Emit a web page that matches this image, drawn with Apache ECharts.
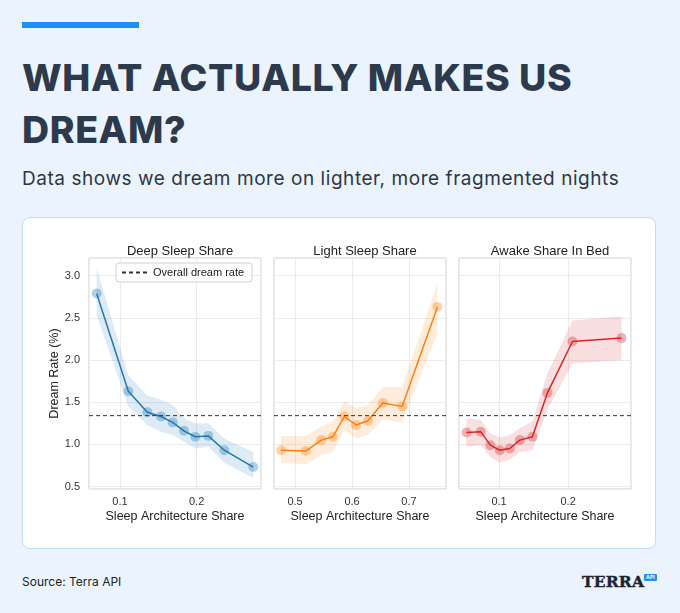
<!DOCTYPE html>
<html>
<head>
<meta charset="utf-8">
<script src="https://cdn.jsdelivr.net/npm/echarts@6/dist/echarts.min.js"></script>
<style>
  html, body { margin: 0; padding: 0; }
  body { width: 680px; height: 613px; background: #ebf4fe; position: relative; overflow: hidden; font-family: Inter, "Noto Sans", sans-serif; }
  .bar { position: absolute; left: 22px; top: 22px; width: 117px; height: 6px; background: #1e8ff5; }
  .title { position: absolute; left: 22px; top: 52px; font-size: 37.5px; font-weight: 800; line-height: 52px; color: #2d3a4c; letter-spacing: 0.6px; }
  .subtitle { position: absolute; left: 22px; top: 166px; font-size: 19px; line-height: 26px; color: #2f3744; letter-spacing: 0.55px; }
  .card { position: absolute; left: 22px; top: 217px; width: 632px; height: 330px; background: #fff; border: 1.5px solid #bfdcf7; border-radius: 8px; }
  .source { position: absolute; left: 22px; top: 574px; font-size: 12px; color: #222; }
  .logo { position: absolute; left: 582px; top: 572px; font-family: "DejaVu Serif", serif; font-weight: bold; font-size: 15.5px; color: #1d2430; letter-spacing: 0.2px; -webkit-text-stroke: 0.4px #1d2430; }
  .logo span { position: absolute; left: 62px; top: 2px; background: #2a8df0; color: #fff; font-family: Inter, sans-serif; font-size: 5px; padding: 0 2px; line-height: 7px; border-radius: 1px; -webkit-text-stroke: 0; }
  #chart { position: absolute; left: 0; top: 0; width: 680px; height: 613px; }
</style>
</head>
<body>
<div class="bar"></div>
<div class="title">WHAT ACTUALLY MAKES US<br>DREAM?</div>
<div class="subtitle">Data shows we dream more on lighter, more fragmented nights</div>
<div class="card"></div>
<div class="source">Source: Terra API</div>
<div class="logo">TERRA<span>API</span></div>
<div id="chart"></div>
<script>
// 数据：每个面板的分箱均值与置信区间
const overallRate = 1.34;

const deepX    = [0.0696, 0.1109, 0.1357, 0.1535, 0.1687, 0.1835, 0.1983, 0.2152, 0.2361, 0.2739];
const deepRate = [2.79, 1.63, 1.38, 1.33, 1.26, 1.16, 1.09, 1.10, 0.93, 0.73];
const deepLo   = [2.53, 1.45, 1.23, 1.15, 1.11, 1.03, 0.95, 0.97, 0.78, 0.60];
const deepHi   = [3.09, 1.82, 1.58, 1.53, 1.47, 1.31, 1.25, 1.25, 1.07, 0.91];

const lightX    = [0.4753, 0.5188, 0.5459, 0.5665, 0.5865, 0.607, 0.628, 0.654, 0.688, 0.75];
const lightRate = [0.93, 0.92, 1.05, 1.09, 1.33, 1.23, 1.28, 1.49, 1.45, 2.63];
const lightLo   = [0.78, 0.76, 0.87, 0.91, 1.17, 1.07, 1.11, 1.29, 1.26, 2.32];
const lightHi   = [1.10, 1.10, 1.21, 1.27, 1.51, 1.43, 1.47, 1.68, 1.68, 2.91];

const awakeX    = [0.0527, 0.0734, 0.0874, 0.101, 0.1155, 0.130, 0.1483, 0.170, 0.2063, 0.2773];
const awakeRate = [1.14, 1.15, 0.99, 0.93, 0.95, 1.05, 1.09, 1.61, 2.22, 2.26];
const awakeLo   = [0.97, 0.99, 0.85, 0.78, 0.82, 0.91, 0.93, 1.41, 1.96, 2.00];
const awakeHi   = [1.31, 1.29, 1.13, 1.08, 1.11, 1.19, 1.27, 1.84, 2.47, 2.52];

const panelTitles = ['Deep Sleep Share', 'Light Sleep Share', 'Awake Share In Bed'];

// 面板配置
const panels = [
  { x: deepX,  y: deepRate,  lo: deepLo,  hi: deepHi,  color: '#1f77b4', left: 89,  xMin: 0.0596, xMax: 0.284 },
  { x: lightX, y: lightRate, lo: lightLo, hi: lightHi, color: '#ff7f0e', left: 274, xMin: 0.463,  xMax: 0.765 },
  { x: awakeX, y: awakeRate, lo: awakeLo, hi: awakeHi, color: '#d62728', left: 459, xMin: 0.042,  xMax: 0.291 }
];

const font = '"Liberation Sans", Arial, sans-serif';
const textColor = '#333';
const gridTop = 258, gridH = 231, gridW = 172;

const grids = [], xAxes = [], yAxes = [], titles = [], series = [];

panels.forEach((p, idx) => {
  grids.push({ left: p.left, top: gridTop, width: gridW, height: gridH, show: true, borderColor: '#cccccc', borderWidth: 1, containLabel: false });

  titles.push({
    text: panelTitles[idx], left: p.left + gridW / 2, top: 240, textAlign: 'center',
    textStyle: { fontFamily: font, fontSize: 13, fontWeight: 'normal', color: '#222' }
  });

  xAxes.push({
    type: 'value', gridIndex: idx, min: p.xMin, max: p.xMax, splitNumber: idx === 1 ? 3 : 2,
    name: 'Sleep Architecture Share', nameLocation: 'middle', nameGap: 21,
    nameTextStyle: { fontFamily: font, fontSize: 12.5, color: '#222' },
    axisLine: { show: false }, axisTick: { show: false },
    axisLabel: { fontFamily: font, fontSize: 11, color: textColor, margin: 7, showMinLabel: false, showMaxLabel: false,
      formatter: v => v.toFixed(1) },
    splitLine: { lineStyle: { color: '#ebebeb', width: 1 } }
  });

  yAxes.push({
    type: 'value', gridIndex: idx, min: 0.47, max: 3.21, splitNumber: 5,
    name: idx === 0 ? 'Dream Rate (%)' : '', nameLocation: 'middle', nameGap: 27,
    nameTextStyle: { fontFamily: font, fontSize: 12.5, color: '#222' },
    axisLine: { show: false }, axisTick: { show: false },
    axisLabel: { show: idx === 0, fontFamily: font, fontSize: 11, color: textColor, margin: 9,
      showMinLabel: false, showMaxLabel: false, formatter: v => v.toFixed(1) },
    splitLine: { lineStyle: { color: '#ebebeb', width: 1 } }
  });

  // 置信区间带
  series.push({
    type: 'custom', xAxisIndex: idx, yAxisIndex: idx, silent: true, z: 1,
    data: p.x.map((x, i) => [x, p.lo[i], p.hi[i]]),
    encode: { x: 0, y: [1, 2] },
    renderItem: function (params, api) {
      if (params.dataIndex !== 0) return;
      const top = p.x.map((x, i) => api.coord([x, p.hi[i]]));
      const bottom = p.x.map((x, i) => api.coord([x, p.lo[i]])).reverse();
      return { type: 'polygon', shape: { points: top.concat(bottom) }, style: { fill: p.color, opacity: 0.15 } };
    }
  });

  // 点
  series.push({
    type: 'scatter', xAxisIndex: idx, yAxisIndex: idx, silent: true, z: 2,
    symbolSize: 10, itemStyle: { color: p.color, opacity: 0.35 },
    data: p.x.map((x, i) => [x, p.y[i]])
  });

  // 线
  series.push({
    type: 'line', xAxisIndex: idx, yAxisIndex: idx, silent: true, z: 3,
    symbol: 'none', lineStyle: { color: p.color, width: 1.5 },
    data: p.x.map((x, i) => [x, p.y[i]])
  });

  // 总体做梦率参考线
  series.push({
    name: 'Overall dream rate', type: 'line', xAxisIndex: idx, yAxisIndex: idx, silent: true, z: 4,
    symbol: 'none', lineStyle: { color: '#333', width: 1, type: [4, 3] },
    data: [[p.xMin, overallRate], [p.xMax, overallRate]]
  });
});

const myChart = echarts.init(document.getElementById('chart'), null, { renderer: 'canvas' });
myChart.setOption({
  animation: false,
  backgroundColor: 'transparent',
  title: titles,
  legend: {
    data: ['Overall dream rate'], left: 116, top: 263, selectedMode: false,
    backgroundColor: '#fff', borderColor: '#d0d0d0', borderWidth: 1, borderRadius: 3,
    padding: [4, 8, 4, 5], itemWidth: 26, itemHeight: 10, itemGap: 6,
    itemStyle: { opacity: 0 },
    textStyle: { fontFamily: font, fontSize: 11, color: '#222' }
  },
  grid: grids,
  xAxis: xAxes,
  yAxis: yAxes,
  series: series
});
</script>
</body>
</html>
